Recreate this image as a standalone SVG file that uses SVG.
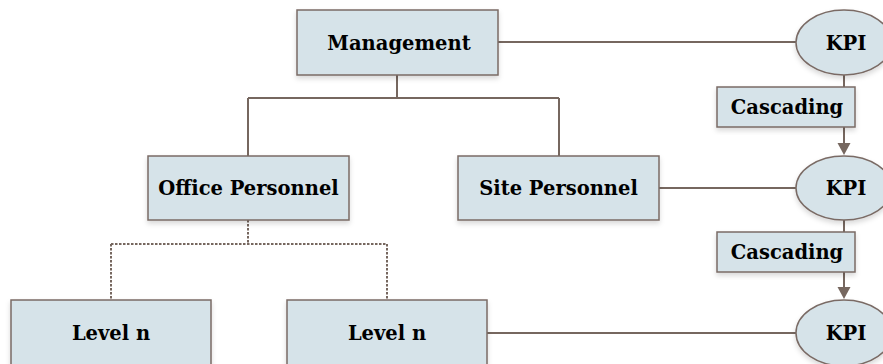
<svg xmlns="http://www.w3.org/2000/svg" width="883" height="364" viewBox="0 0 883 364">
<defs>
<style>
.box{fill:#d6e3e9;stroke:#7a6b65;stroke-width:1.5;filter:url(#sh)}
.t{font-family:"DejaVu Serif","Liberation Serif",serif;font-weight:bold;font-size:19.5px;fill:#000;text-anchor:middle;dominant-baseline:central}
.ln{fill:none;stroke:#76675f;stroke-width:2}
.dl{fill:none;stroke:#76675f;stroke-width:2;stroke-dasharray:2.5 1.5}
</style>
<filter id="sh" x="-10%" y="-10%" width="120%" height="130%">
<feDropShadow dx="0" dy="3" stdDeviation="2.5" flood-color="#000" flood-opacity="0.15"/>
</filter>
</defs>
<g id="connectors">
<path class="ln" d="M397,75 V98 M248,98 H559 M248,98 V156 M559,98 V156"/>
<path class="dl" d="M248,220 V244 M111,244 H387 M111,244 V300 M387,244 V300"/>
<path class="ln" d="M498,42 H796"/>
<path class="ln" d="M659,188 H796"/>
<path class="ln" d="M487,333 H796"/>
<path class="ln" d="M844,75 V87"/>
<path class="ln" d="M844,127 V144"/>
<path d="M837.5,143 L850.5,143 L844,155 Z" fill="#76675f"/>
<path class="ln" d="M844,220 V232"/>
<path class="ln" d="M844,272 V288"/>
<path d="M837.5,287 L850.5,287 L844,299 Z" fill="#76675f"/>
</g>
<g id="management"><rect class="box" x="297" y="10" width="201" height="65"/><text class="t" x="399" y="43">Management</text></g>
<g id="office"><rect class="box" x="148" y="156" width="201" height="64"/><text class="t" x="248.5" y="188">Office Personnel</text></g>
<g id="site"><rect class="box" x="458" y="156" width="201" height="64"/><text class="t" x="558.5" y="188">Site Personnel</text></g>
<g id="level1"><rect class="box" x="11" y="300" width="200" height="70"/><text class="t" x="111" y="333">Level n</text></g>
<g id="level2"><rect class="box" x="287" y="300" width="200" height="70"/><text class="t" x="387" y="333">Level n</text></g>
<g id="kpi1"><ellipse class="box" cx="844" cy="42.5" rx="48" ry="32.5"/><text class="t" x="846" y="43">KPI</text></g>
<g id="casc1"><rect class="box" x="717" y="87" width="138" height="40"/><text class="t" x="787" y="107">Cascading</text></g>
<g id="kpi2"><ellipse class="box" cx="844" cy="188" rx="48" ry="32"/><text class="t" x="846" y="188">KPI</text></g>
<g id="casc2"><rect class="box" x="717" y="232" width="138" height="40"/><text class="t" x="787" y="252">Cascading</text></g>
<g id="kpi3"><ellipse class="box" cx="844" cy="333" rx="48" ry="33"/><text class="t" x="846" y="333">KPI</text></g>
</svg>
